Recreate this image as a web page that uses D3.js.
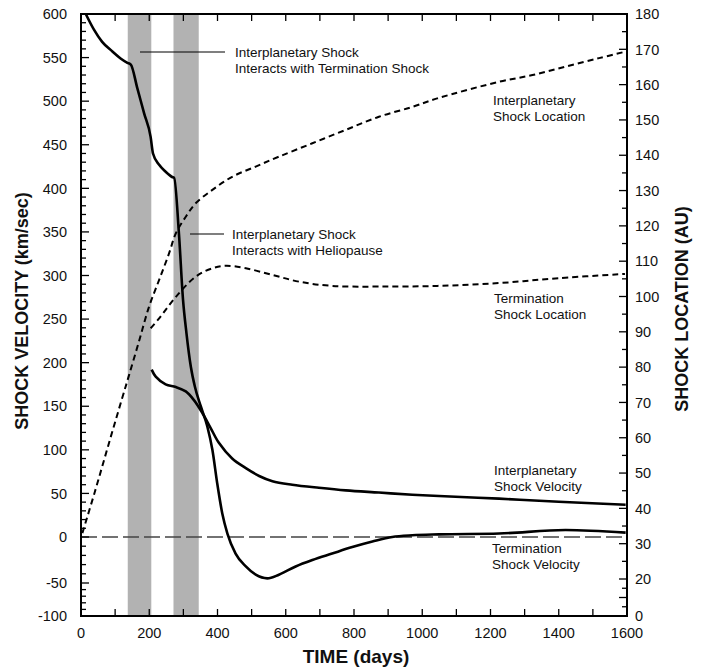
<!DOCTYPE html>
<html>
<head>
<meta charset="utf-8">
<title>Shock velocity and location</title>
<script src="https://cdn.jsdelivr.net/npm/d3@7"></script>
<style>
body{ margin:0; background:#fff; }
svg{ display:block; font-family:"Liberation Sans", Arial, Helvetica, sans-serif; }
.tick-label{ font-size:14.5px; fill:#111; }
.title{ font-size:18px; font-weight:bold; fill:#111; }
.note{ font-size:13.5px; fill:#111; }
</style>
</head>
<body>
<svg id="chart" width="701" height="668"></svg>
<script>
// x axis (days)
var xTicks = [0, 200, 400, 600, 800, 1000, 1200, 1400, 1600];
// left axis: shock velocity (km/sec)
var velTicks = [-100, -50, 0, 50, 100, 150, 200, 250, 300, 350, 400, 450, 500, 550, 600];
// right axis: shock location (AU), no "10" label in the original
var locTicks = [0, 20, 30, 40, 50, 60, 70, 80, 90, 100, 110, 120, 130, 140, 150, 160, 170, 180];

// shaded intervals (days)
var bandStart = [137, 271];
var bandEnd   = [206, 345];

// solid curve that starts at 600 km/sec
var ipVelDays = [14, 38, 62, 92, 116, 136, 146, 165, 185, 204, 211, 229, 248, 267, 273, 287, 299, 309, 322, 334, 351, 370, 385, 399, 414, 429, 453, 483, 512, 546, 580, 629, 678, 736, 795, 854, 912, 971, 1049, 1225, 1420, 1596];
var ipVel     = [600, 582, 568, 557, 549, 544, 542, 515, 486, 459, 440, 427, 419, 413, 412, 348, 272, 234, 195, 172, 150, 127, 100, 62, 27, 4, -18, -32, -41, -45, -41, -32, -25, -18, -11, -5, 0, 2, 3, 4, 8, 5];

// solid curve that starts after the first interaction
var tsVelDays = [207, 219, 248, 278, 307, 331, 356, 380, 404, 443, 483, 522, 561, 619, 697, 776, 873, 971, 1049, 1225, 1400, 1596];
var tsVel     = [192, 184, 175, 172, 167, 157, 142, 125, 108, 90, 79, 70, 64, 60, 56.5, 53.5, 51, 48.5, 47, 44, 40.5, 37];

// dashed: interplanetary shock location (AU)
var ipLocDays = [4, 40, 85, 120, 141, 170, 199, 229, 258, 278, 307, 336, 385, 443, 512, 580, 678, 776, 873, 971, 1044, 1225, 1323, 1420, 1518, 1594];
var ipLoc     = [33, 44.5, 59.5, 71, 77.8, 87.3, 97, 104.7, 112.2, 117.9, 122.6, 126.4, 130.2, 133.9, 136.8, 139.6, 143.4, 147.2, 150.9, 153.7, 156.1, 160.8, 162.7, 165.1, 167.5, 169.3];

// dashed: termination shock location (AU)
var tsLocDays = [204, 229, 278, 336, 385, 424, 483, 561, 639, 736, 873, 1044, 1225, 1400, 1594];
var tsLoc     = [91, 93.8, 99.9, 105.6, 108, 108.7, 108, 106.1, 104.2, 103, 102.8, 103, 103.8, 105.2, 106.4];

var svg = d3.select("#chart");
var pLeft = 81, pRight = 627, pTop = 14, pBottom = 616;

var x = d3.scaleLinear().domain([0, 1600]).range([pLeft, pRight]);
// the scanned axes are not evenly spaced near the bottom, so the scales are piecewise
var yVel = d3.scaleLinear().domain([-100, -50, 0, 600]).range([pBottom, 583, 537, pTop]);
var yLoc = d3.scaleLinear().domain([0, 20, 180]).range([pBottom, 579, pTop]);

// gray bands
svg.selectAll("rect.band").data(bandStart).enter().append("rect")
    .attr("class", "band")
    .attr("x", function(d){ return x(d); })
    .attr("width", function(d, i){ return x(bandEnd[i]) - x(d); })
    .attr("y", pTop).attr("height", pBottom - pTop)
    .attr("fill", "#b2b2b2");

// zero line
svg.append("line")
    .attr("x1", x(0)).attr("x2", x(1600))
    .attr("y1", yVel(0)).attr("y2", yVel(0))
    .attr("stroke", "#444").attr("stroke-width", 1.5)
    .attr("stroke-dasharray", "16,5");

function drawCurve(days, vals, yScale, dashed, curve){
    var pts = days.map(function(d, i){ return [d, vals[i]]; });
    var line = d3.line()
        .x(function(d){ return x(d[0]); })
        .y(function(d){ return yScale(d[1]); })
        .curve(curve);
    svg.append("path").datum(pts)
        .attr("d", line)
        .attr("fill", "none")
        .attr("stroke", "#000")
        .attr("stroke-width", dashed ? 2 : 2.6)
        .attr("stroke-dasharray", dashed ? "6,4" : null);
}

var smooth = d3.curveCatmullRom.alpha(0.5);
drawCurve(ipLocDays, ipLoc, yLoc, true, smooth);
drawCurve(tsLocDays, tsLoc, yLoc, true, smooth);
drawCurve(ipVelDays, ipVel, yVel, false, d3.curveMonotoneX);
drawCurve(tsVelDays, tsVel, yVel, false, smooth);

// frame
svg.append("rect")
    .attr("x", pLeft).attr("y", pTop)
    .attr("width", pRight - pLeft).attr("height", pBottom - pTop)
    .attr("fill", "none").attr("stroke", "#000").attr("stroke-width", 2);

// ticks (all pointing inward)
var g = svg.append("g").attr("stroke", "#000").attr("stroke-width", 1.3);
d3.range(-100, 601, 10).forEach(function(v){
    var len = v % 50 === 0 ? 8 : 5;
    g.append("line").attr("x1", pLeft).attr("x2", pLeft + len).attr("y1", yVel(v)).attr("y2", yVel(v));
});
d3.range(0, 181, 5).forEach(function(v){
    var len = v % 10 === 0 ? 8 : 5;
    g.append("line").attr("x1", pRight).attr("x2", pRight - len).attr("y1", yLoc(v)).attr("y2", yLoc(v));
});
d3.range(100, 1600, 100).forEach(function(d){
    g.append("line").attr("x1", x(d)).attr("x2", x(d)).attr("y1", pBottom).attr("y2", pBottom - 7);
    g.append("line").attr("x1", x(d)).attr("x2", x(d)).attr("y1", pTop).attr("y2", pTop + 7);
});

// tick labels
svg.selectAll("text.yl").data(velTicks).enter().append("text")
    .attr("class", "tick-label")
    .attr("x", pLeft - 14).attr("y", function(d){ return yVel(d); })
    .attr("dy", "0.36em").attr("text-anchor", "end")
    .text(function(d){ return d; });
svg.selectAll("text.yr").data(locTicks).enter().append("text")
    .attr("class", "tick-label")
    .attr("x", pRight + 8).attr("y", function(d){ return yLoc(d); })
    .attr("dy", "0.36em")
    .text(function(d){ return d; });
svg.selectAll("text.xl").data(xTicks).enter().append("text")
    .attr("class", "tick-label")
    .attr("x", function(d){ return x(d); }).attr("y", 638)
    .attr("text-anchor", "middle")
    .text(function(d){ return d; });

// axis titles
svg.append("text").attr("class", "title")
    .attr("transform", "translate(28,311) rotate(-90)")
    .attr("text-anchor", "middle")
    .text("SHOCK VELOCITY  (km/sec)");
svg.append("text").attr("class", "title")
    .attr("transform", "translate(688,309) rotate(-90)")
    .attr("text-anchor", "middle")
    .text("SHOCK LOCATION (AU)");
svg.append("text").attr("class", "title")
    .attr("x", 356).attr("y", 663)
    .attr("text-anchor", "middle")
    .style("font-size", "19px")
    .text("TIME (days)");

// annotations
function note(xp, yp, lines){
    lines.forEach(function(t, i){
        svg.append("text").attr("class", "note")
            .attr("x", xp).attr("y", yp + i * 16)
            .text(t);
    });
}
svg.append("line").attr("x1", 140).attr("x2", 225).attr("y1", 52).attr("y2", 52)
    .attr("stroke", "#000").attr("stroke-width", 1.2);
note(235, 57, ["Interplanetary Shock", "Interacts with Termination Shock"]);
svg.append("line").attr("x1", 190).attr("x2", 224).attr("y1", 234).attr("y2", 234)
    .attr("stroke", "#000").attr("stroke-width", 1.2);
note(232, 239, ["Interplanetary Shock", "Interacts with Heliopause"]);

note(493, 105, ["Interplanetary", "Shock Location"]);
note(494, 303, ["Termination", " Shock Location"]);
note(494, 475, ["Interplanetary", "Shock Velocity"]);
note(492, 553, ["Termination", " Shock Velocity"]);
</script>
</body>
</html>
